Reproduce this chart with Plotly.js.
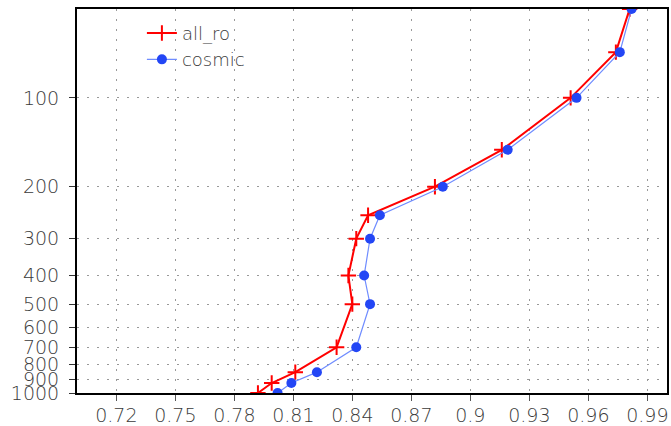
<!DOCTYPE html>
<html>
<head>
<meta charset="utf-8">
<script src="https://cdn.plot.ly/plotly-3.0.1.min.js"></script>
<style>html,body{margin:0;padding:0;background:#fff;}#chart{width:671px;height:426px;}</style>
</head>
<body>
<div id="chart"></div>
<script>
// Pressure levels (hPa)
const levels = [1000, 925, 850, 700, 500, 400, 300, 250, 200, 150, 100, 70, 50];
// Series values
const allRo  = [0.792, 0.799, 0.811, 0.832, 0.840, 0.838, 0.842, 0.848, 0.882, 0.916, 0.951, 0.974, 0.981];
const cosmic = [0.802, 0.809, 0.822, 0.842, 0.849, 0.846, 0.849, 0.854, 0.886, 0.919, 0.954, 0.976, 0.982];
// Tick labels
const xTickVals = [0.72, 0.75, 0.78, 0.81, 0.84, 0.87, 0.90, 0.93, 0.96, 0.99];
const xTickText = ["0.72", "0.75", "0.78", "0.81", "0.84", "0.87", "0.9", "0.93", "0.96", "0.99"];
const yTickVals = [100, 200, 300, 400, 500, 600, 700, 800, 900, 1000];
const yTickText = ["100", "200", "300", "400", "500", "600", "700", "800", "900", "1000"];

const fam = "DejaVu Sans ExtraLight, DejaVu Sans, sans-serif";
const txtColor = "#3a3a3a";

const traces = [
  {
    x: allRo, y: levels, name: "all_ro", type: "scatter", mode: "lines+markers",
    line: {color: "#ff0000", width: 2},
    marker: {symbol: "cross-thin", size: 11, line: {color: "#ff0000", width: 2}, color: "#ff0000"}
  },
  {
    x: cosmic, y: levels, name: "cosmic", type: "scatter", mode: "lines+markers",
    line: {color: "#6f8cff", width: 1.2},
    marker: {symbol: "circle", size: 10, color: "#2346f5"}
  }
];

const layout = {
  width: 671, height: 426,
  margin: {l: 77, r: 4, t: 9, b: 33},
  paper_bgcolor: "#fff", plot_bgcolor: "#fff",
  font: {family: fam, size: 19, color: txtColor, weight: 200},
  showlegend: true,
  legend: {x: 0.11, y: 0.985, xanchor: "left", yanchor: "top", bgcolor: "rgba(0,0,0,0)",
           font: {family: fam, size: 18, color: txtColor, weight: 200}, tracegroupgap: 0},
  xaxis: {
    range: [0.70, 1.00], tickmode: "array", tickvals: xTickVals, ticktext: xTickText,
    showline: true, linecolor: "#000", linewidth: 2, mirror: true,
    ticks: "outside", ticklen: 6, tickcolor: "#555", tickwidth: 1,
    ticklabelstandoff: -2,
    showgrid: true, gridcolor: "#999", gridwidth: 1, griddash: "2px,8px",
    zeroline: false, tickfont: {family: fam, size: 19, color: txtColor, weight: 200}
  },
  yaxis: {
    type: "log", range: [Math.log10(1000), Math.log10(50)],
    tickmode: "array", tickvals: yTickVals, ticktext: yTickText,
    showline: true, linecolor: "#000", linewidth: 2, mirror: true,
    ticks: "outside", ticklen: 6, tickcolor: "#333", tickwidth: 1,
    ticklabelstandoff: 6,
    showgrid: true, gridcolor: "#999", gridwidth: 1, griddash: "2px,8px",
    zeroline: false, tickfont: {family: fam, size: 19, color: txtColor, weight: 200}
  }
};

Plotly.newPlot("chart", traces, layout, {staticPlot: true, displayModeBar: false});
</script>
</body>
</html>
